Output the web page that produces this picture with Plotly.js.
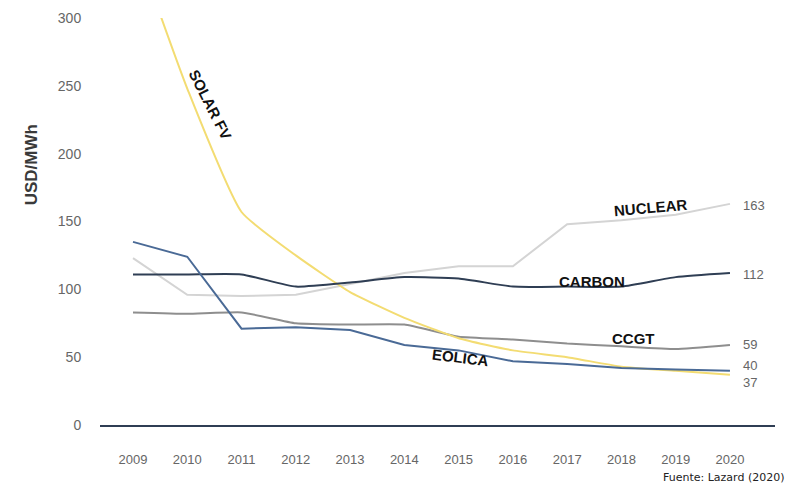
<!DOCTYPE html>
<html>
<head>
<meta charset="utf-8">
<script src="https://cdn.plot.ly/plotly-3.0.1.min.js"></script>
<style>html,body{margin:0;padding:0;background:#fff;}#chart{width:791px;height:486px;}</style>
</head>
<body>
<div id="chart"></div>
<script>
const years = [2009, 2010, 2011, 2012, 2013, 2014, 2015, 2016, 2017, 2018, 2019, 2020];
const solarFV = [359, 248, 157, 125, 98, 79, 64, 55, 50, 43, 40, 37];
const eolica  = [135, 124, 71, 72, 70, 59, 55, 47, 45, 42, 41, 40];
const nuclear = [123, 96, 95, 96, 104, 112, 117, 117, 148, 151, 155, 163];
const carbon  = [111, 111, 111, 102, 105, 109, 108, 102, 102, 102, 109, 112];
const ccgt    = [83, 82, 83, 75, 74, 74, 65, 63, 60, 58, 56, 59];
const yTicks = [0, 50, 100, 150, 200, 250, 300];

const traces = [
  {x: years, y: nuclear, mode: 'lines', line: {color: '#d4d4d4', width: 2}, name: 'NUCLEAR'},
  {x: years, y: ccgt, mode: 'lines', line: {color: '#8e8e8e', width: 2, shape: 'spline', smoothing: 0.4}, name: 'CCGT'},
  {x: years, y: solarFV, mode: 'lines', line: {color: '#f3dc72', width: 2, shape: 'spline', smoothing: 0.5}, name: 'SOLAR FV'},
  {x: years, y: carbon, mode: 'lines', line: {color: '#2f3e54', width: 2, shape: 'spline', smoothing: 0.5}, name: 'CARBON'},
  {x: years, y: eolica, mode: 'lines', line: {color: '#4a6a96', width: 2}, name: 'EOLICA'}
];

const lblFont = {family: 'Liberation Sans, Arial, sans-serif', size: 15, color: '#111'};
const endFont = {family: 'Liberation Sans, Arial, sans-serif', size: 13, color: '#666'};
const endLabels = [[163, 162], [112, 111], [59, 59], [40, 44], [37, 31]];

const annotations = [
  {x: 2010.42, y: 236, text: '<b>SOLAR FV</b>', textangle: 63, showarrow: false, font: lblFont},
  {x: 2018.53, y: 160, text: '<b>NUCLEAR</b>', textangle: -5, showarrow: false, font: lblFont},
  {x: 2017.46, y: 106, text: '<b>CARBON</b>', showarrow: false, font: lblFont},
  {x: 2018.23, y: 64, text: '<b>CCGT</b>', showarrow: false, font: lblFont},
  {x: 2015.04, y: 50, text: '<b>EOLICA</b>', textangle: 7, showarrow: false, font: lblFont},
  {xref: 'paper', yref: 'paper', x: -0.118, y: 0.64, text: '<b>USD/MWh</b>', textangle: -90, showarrow: false,
   font: {family: 'Liberation Sans, Arial, sans-serif', size: 17, color: '#3a3a3a'}},
  {xref: 'paper', yref: 'paper', x: 1.018, y: -0.128, xanchor: 'right', yanchor: 'middle', text: 'Fuente: Lazard (2020)', showarrow: false,
   font: {family: 'DejaVu Sans, sans-serif', size: 11, color: '#222'}}
].concat(endLabels.map(e => ({x: 2020.2, y: e[1], xanchor: 'left', text: String(e[0]), showarrow: false, font: endFont})));

const layout = {
  width: 791, height: 486,
  margin: {l: 100, r: 16, t: 18, b: 61},
  paper_bgcolor: '#fff', plot_bgcolor: '#fff',
  showlegend: false,
  font: {family: 'Liberation Sans, Arial, sans-serif'},
  xaxis: {
    range: [2008.392, 2020.83], tickvals: years, ticktext: years.map(String),
    showgrid: false, zeroline: false, showline: true, linecolor: '#2f3e54', linewidth: 2,
    ticks: 'outside', ticklen: 21, tickcolor: 'rgba(0,0,0,0)',
    tickfont: {size: 13, color: '#666'}
  },
  yaxis: {
    range: [0, 300], tickvals: yTicks, ticktext: yTicks.map(String),
    showgrid: false, zeroline: false, showline: false,
    ticks: 'outside', ticklen: 15, tickcolor: 'rgba(0,0,0,0)',
    tickfont: {size: 14, color: '#666'}
  },
  annotations: annotations
};

Plotly.newPlot('chart', traces, layout, {displayModeBar: false, staticPlot: true});
</script>
</body>
</html>
